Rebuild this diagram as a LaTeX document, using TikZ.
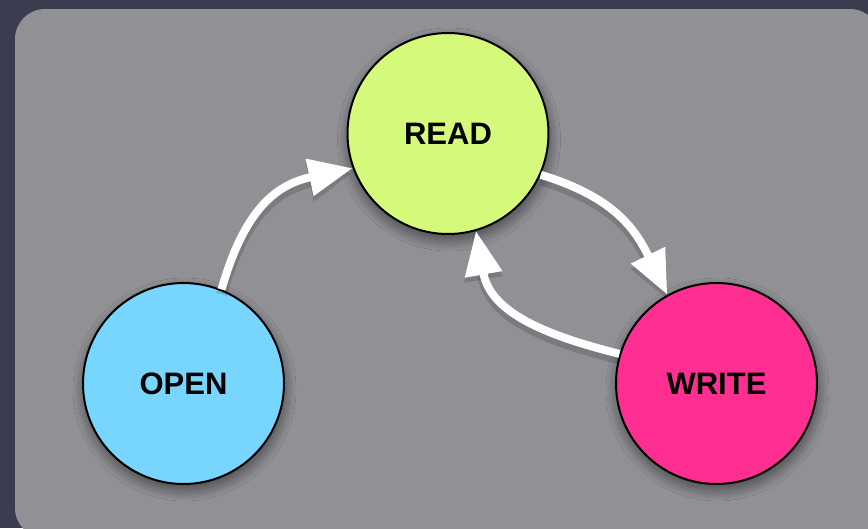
\documentclass[tikz,border=0pt]{standalone}
\usepackage{fontspec}
\setmainfont{Liberation Sans}
\usetikzlibrary{arrows.meta,shadows.blur}
\definecolor{backdrop}{HTML}{3C3C50}
\definecolor{panel}{HTML}{909095}
\definecolor{readfill}{HTML}{D5F97A}
\definecolor{openfill}{HTML}{78D5FE}
\definecolor{writefill}{HTML}{FF2F91}
\tikzset{
  state/.style={circle, draw=black, line width=2pt, minimum size=201pt,
    inner sep=0pt, font=\bfseries\fontsize{31}{31}\selectfont,
    blur shadow={shadow xshift=1pt, shadow yshift=-6pt,
      shadow blur radius=11pt, shadow blur steps=16, shadow opacity=50}},
  flow/.style={draw=white, line width=8pt,
    -{Triangle[length=44pt,width=36pt]},
    preaction={draw=black, opacity=0.14, line width=11pt,
      transform canvas={yshift=-5pt}}},
}
\begin{document}
\begin{tikzpicture}[x=1pt,y=1pt]
  % page and rounded panel
  \fill[backdrop] (0,0) rectangle (868,-528);
  \useasboundingbox (0,0) rectangle (868,-528);
  \fill[panel, rounded corners=30pt] (15,-9) rectangle (880,-538);

  % states
  \node[state, fill=readfill]  (read)  at (448,-133.5) {READ};
  \node[state, fill=openfill]  (open)  at (183.5,-383.5) {OPEN};
  \node[state, fill=writefill] (write) at (716.5,-383.5) {WRITE};

  % transitions
  \draw[flow] (open.68) to[out=74, in=192, looseness=1.15] (read.200);
  \draw[flow] (read.336) to[out=-17, in=116, looseness=1.1] (write.119);
  \draw[flow] (write.163) to[out=166, in=-80, looseness=1.1] (read.286);
\end{tikzpicture}
\end{document}
